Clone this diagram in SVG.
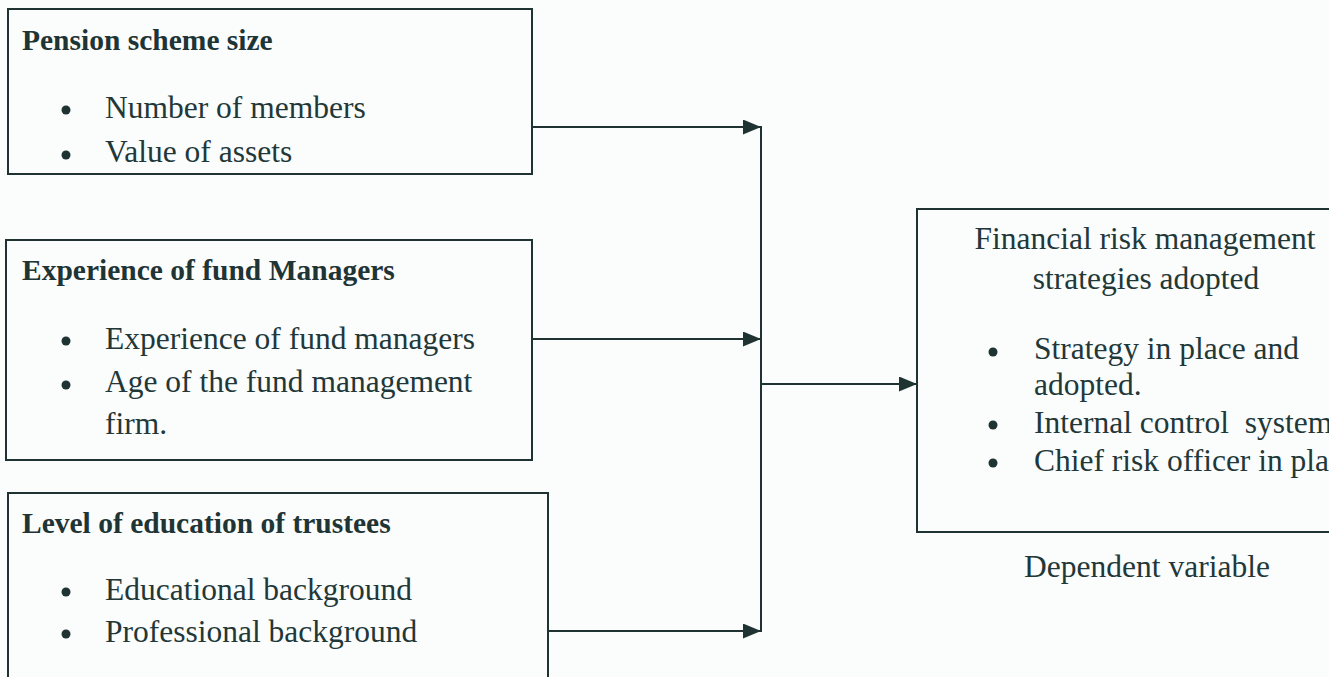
<svg xmlns="http://www.w3.org/2000/svg" width="1329" height="677" viewBox="0 0 1329 677">
  <style>
    .box { fill: none; stroke: #1f3333; stroke-width: 2; }
    .wire { fill: none; stroke: #1f3333; stroke-width: 2; }
    .title { font-family: "Liberation Serif", "Times New Roman", serif; font-weight: bold; font-size: 29.5px; fill: #1f3434; }
    .item { font-family: "Liberation Serif", "Times New Roman", serif; font-size: 31.5px; fill: #223838; }
    .dot { fill: #1f3333; }
  </style>
  <defs>
    <marker id="arrow" viewBox="0 0 18 15" refX="18" refY="7.5" markerWidth="18" markerHeight="15" markerUnits="userSpaceOnUse" orient="auto">
      <path d="M0,0 L18,7.5 L0,15 Z" fill="#1f3333"/>
    </marker>
  </defs>

  <rect width="1329" height="677" fill="#fbfcfc"/>

  <!-- Independent variable: pension scheme size -->
  <g id="scheme-size">
    <rect class="box" x="8" y="9" width="524" height="165"/>
    <text class="title" x="22" y="50">Pension scheme size</text>
    <circle class="dot" cx="66" cy="110" r="4.5"/>
    <text class="item" x="105" y="118">Number of members</text>
    <circle class="dot" cx="66" cy="155" r="4.5"/>
    <text class="item" x="105" y="162">Value of assets</text>
  </g>

  <!-- Independent variable: experience of fund managers -->
  <g id="fund-managers">
    <rect class="box" x="6" y="240" width="526" height="220"/>
    <text class="title" x="22" y="280">Experience of fund Managers</text>
    <circle class="dot" cx="66" cy="341" r="4.5"/>
    <text class="item" x="105" y="349">Experience of fund managers</text>
    <circle class="dot" cx="66" cy="385" r="4.5"/>
    <text class="item" x="105" y="392">Age of the fund management</text>
    <text class="item" x="105" y="434">firm.</text>
  </g>

  <!-- Independent variable: education of trustees -->
  <g id="trustees">
    <rect class="box" x="8" y="493" width="540" height="200"/>
    <text class="title" x="22" y="533">Level of education of trustees</text>
    <circle class="dot" cx="66" cy="592" r="4.5"/>
    <text class="item" x="105" y="600">Educational background</text>
    <circle class="dot" cx="66" cy="634" r="4.5"/>
    <text class="item" x="105" y="642">Professional background</text>
  </g>

  <!-- Dependent variable (box runs past the right edge) -->
  <g id="risk-strategies">
    <path class="box" d="M1335,209 H917 V532 H1335"/>
    <text class="item" x="1145" y="249" text-anchor="middle">Financial risk management</text>
    <text class="item" x="1146" y="289" text-anchor="middle">strategies adopted</text>
    <circle class="dot" cx="993" cy="352" r="4.5"/>
    <text class="item" x="1034" y="359">Strategy in place and</text>
    <text class="item" x="1034" y="395">adopted.</text>
    <circle class="dot" cx="993" cy="425" r="4.5"/>
    <text class="item" x="1034" y="433">Internal control&#160; systems</text>
    <circle class="dot" cx="993" cy="463" r="4.5"/>
    <text class="item" x="1034" y="471">Chief risk officer in place</text>
    <text class="item" x="1147" y="577" text-anchor="middle">Dependent variable</text>
  </g>

  <!-- Connectors -->
  <g id="connectors">
    <line class="wire" x1="532" y1="127" x2="761" y2="127" marker-end="url(#arrow)"/>
    <line class="wire" x1="532" y1="339" x2="761" y2="339" marker-end="url(#arrow)"/>
    <line class="wire" x1="548" y1="631" x2="761" y2="631" marker-end="url(#arrow)"/>
    <line class="wire" x1="761" y1="126" x2="761" y2="632"/>
    <line class="wire" x1="761" y1="384" x2="917" y2="384" marker-end="url(#arrow)"/>
  </g>
</svg>
